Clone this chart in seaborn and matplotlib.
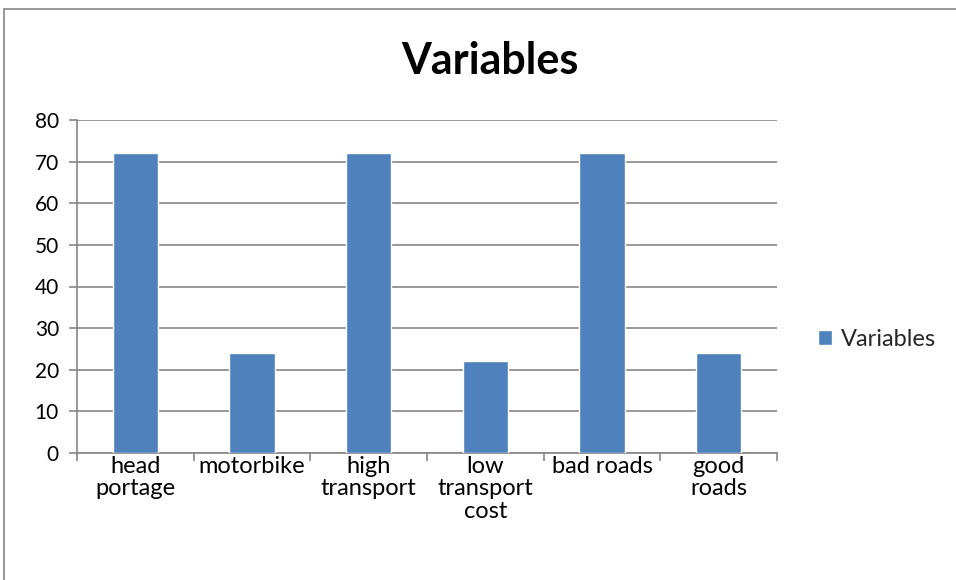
import matplotlib
matplotlib.use("Agg")
import matplotlib.pyplot as plt
import seaborn as sns
import pandas as pd
from matplotlib.patches import Rectangle, Patch

# data
categories = ["head\nportage", "motorbike", "high\ntransport", "low\ntransport\ncost", "bad roads", "good\nroads"]
values = [72, 24, 72, 22, 72, 24]
series_name = "Variables"

df = pd.DataFrame({"category": categories, "value": values})

sns.set_style("white")
plt.rcParams["font.family"] = ["Lato", "DejaVu Sans"]

bar_color = "#4F81BD"
grid_color = "#868686"

fig = plt.figure(figsize=(9.56, 5.8), dpi=100)
ax = fig.add_axes([77 / 956, 1 - 453 / 580, 700 / 956, 333 / 580])

sns.barplot(data=df, x="category", y="value", color=bar_color, width=0.39,
            saturation=1, ax=ax, zorder=3)

ax.set_ylim(0, 80)
ax.set_xlim(-0.5, len(categories) - 0.5)
ax.set_yticks(range(0, 81, 10))
ax.yaxis.grid(True, color=grid_color, linewidth=1.2, zorder=0)
ax.set_axisbelow(True)
ax.set_xlabel("")
ax.set_ylabel("")

for side in ["top", "right"]:
    ax.spines[side].set_visible(False)
for side in ["left", "bottom"]:
    ax.spines[side].set_color(grid_color)
    ax.spines[side].set_linewidth(1.2)

# y ticks
ax.tick_params(axis="y", left=True, length=6, width=1.2, color=grid_color,
               labelsize=15, pad=7, labelcolor="black")

# x ticks at category boundaries
ax.set_xticks([i - 0.5 for i in range(len(categories) + 1)], minor=False)
ax.set_xticklabels([""] * (len(categories) + 1))
ax.tick_params(axis="x", bottom=True, length=6, width=1.2, color=grid_color)
ax.set_xticks(range(len(categories)), minor=True)
ax.set_xticklabels(categories, minor=True)
ax.tick_params(axis="x", which="minor", bottom=False, labelsize=17, pad=0,
               labelcolor="black")
for lbl in ax.get_xticklabels(minor=True):
    lbl.set_linespacing(1.1)
    lbl.set_verticalalignment("top")

fig.text(490 / 956, 1 - 61 / 580, "Variables", ha="center", va="center",
         fontsize=31, fontweight="bold", color="black")

leg = fig.legend(handles=[Patch(facecolor=bar_color, label=series_name)],
                 loc="center left", bbox_to_anchor=(818 / 956, 1 - 339 / 580),
                 frameon=False, fontsize=17, handlelength=0.6, handleheight=0.6,
                 handletextpad=0.35, borderaxespad=0, borderpad=0)

fig.patches.append(Rectangle((4 / 956, -0.05), 1.1, 1 - 9 / 580 + 0.05,
                             transform=fig.transFigure, fill=False,
                             edgecolor=grid_color, linewidth=1.2))

fig.savefig("out.png", dpi=100)
